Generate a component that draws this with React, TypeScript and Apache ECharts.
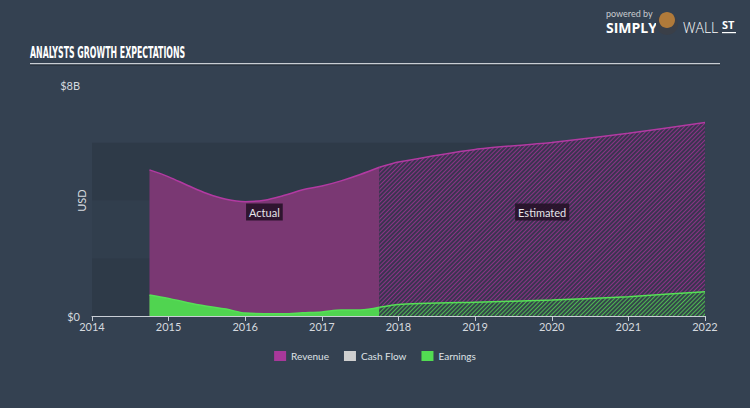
import React, { useEffect, useRef } from "react";
import * as echarts from "echarts";

// ---- Data (values in billions USD, x in decimal years) ----
const actualYears = [2014.75, 2015.0, 2015.25, 2015.5, 2015.75, 2016.0, 2016.25, 2016.5, 2016.75, 2017.0, 2017.25, 2017.5, 2017.75];
const actualRevenue = [5.06, 4.82, 4.52, 4.24, 4.04, 3.96, 4.01, 4.17, 4.37, 4.5, 4.68, 4.9, 5.15];
const actualEarnings = [0.73, 0.61, 0.46, 0.34, 0.24, 0.1, 0.08, 0.08, 0.11, 0.14, 0.21, 0.21, 0.3];
const estYears = [2017.75, 2018.0, 2019.0, 2020.0, 2021.0, 2022.0];
const estRevenue = [5.15, 5.33, 5.77, 6.01, 6.33, 6.7];
const estEarnings = [0.3, 0.4, 0.48, 0.55, 0.67, 0.84];
const cashFlow: number[][] = [];
const xTicks = [2014, 2015, 2016, 2017, 2018, 2019, 2020, 2021, 2022];
const yMax = 8;

const BG = "#344151";
const BAND = "#2e3a48";

const zip = (xs: number[], ys: number[]) => xs.map((x, i) => [x, ys[i]]);

export default function App() {
  const ref = useRef<HTMLDivElement>(null);
  useEffect(() => {
    if (!ref.current) return;
    const chart = echarts.init(ref.current, undefined, { renderer: "svg" });
    const labelStyle = {
      show: true,
      color: "#e6e6ea",
      fontSize: 11,
      fontFamily: "Lato",
      backgroundColor: "rgba(38,18,40,0.9)",
      padding: [3, 3, 3, 3],
    };
    const midActual = (actualYears[0] + actualYears[actualYears.length - 1]) / 2;
    const midEst = (estYears[0] + estYears[estYears.length - 1]) / 2;
    const hatch = (color: string) => ({
      symbol: "rect",
      symbolSize: 1,
      color,
      dashArrayX: [1, 0],
      dashArrayY: [1, 1.2],
      rotation: -Math.PI / 4,
    });
    chart.setOption({
      animation: false,
      backgroundColor: BG,
      textStyle: { fontFamily: "Lato" },
      grid: { left: 92, right: 45, top: 85, bottom: 92 },
      legend: {
        bottom: 42,
        left: "center",
        itemWidth: 12,
        itemHeight: 10,
        itemGap: 15,
        icon: "rect",
        textStyle: { color: "#dfe2e6", fontSize: 10, fontFamily: "Lato" },
        data: [
          { name: "Revenue", itemStyle: { color: "#a8389a" } },
          { name: "Cash Flow", itemStyle: { color: "#cfcfcf" } },
          { name: "Earnings", itemStyle: { color: "#52dc52" } },
        ],
        selectedMode: false,
      },
      xAxis: {
        type: "value",
        min: xTicks[0],
        max: xTicks[xTicks.length - 1],
        interval: 1,
        axisLine: { show: true, lineStyle: { color: "#c9ced6", width: 1 } },
        axisTick: { show: true, length: 5, lineStyle: { color: "#c9ced6" } },
        axisLabel: { color: "#d5d9df", fontSize: 11, margin: 5, formatter: (v: number) => String(v) },
        splitLine: { show: false },
      },
      yAxis: {
        type: "value",
        min: 0,
        max: yMax,
        interval: 2,
        name: "USD",
        nameLocation: "middle",
        nameGap: 5,
        nameRotate: 90,
        nameMoveOverlap: false,
        nameTextStyle: { color: "#d5d9df", fontSize: 11 },
        axisLine: { show: false },
        axisTick: { show: false },
        axisLabel: {
          color: "#d5d9df",
          fontSize: 11,
          margin: 12,
          formatter: (v: number) => (v === 0 ? "$0" : v === yMax ? "$8B" : ""),
        },
        splitLine: { show: false },
        splitArea: { show: true, areaStyle: { color: [BAND, "#313e4d", BAND, "rgba(0,0,0,0)"] } },
      },
      graphic: [
        {
          type: "text",
          left: 30,
          top: 44,
          scaleX: 0.545,
          style: { text: "ANALYSTS GROWTH EXPECTATIONS", fill: "#ffffff", font: "bold 16px 'Liberation Sans Narrow', 'DejaVu Sans Condensed', sans-serif" },
        },
        { type: "rect", shape: { x: 30, y: 63, width: 690, height: 1.5 }, style: { fill: "#c8cdd3" } },
        { type: "rect", shape: { x: 30, y: 64.5, width: 690, height: 1 }, style: { fill: "#1f2833" } },
        { type: "text", left: 606, top: 9, style: { text: "powered by", fill: "#c9ccd0", font: "9px Lato" } },
        { type: "text", left: 606, top: 20, style: { text: "SIMPLY", fill: "#ffffff", font: "bold 14px 'Open Sans'" } },
        { type: "circle", shape: { cx: 667, cy: 24, r: 11 }, style: { fill: "#3a3f48" } },
        { type: "ellipse", shape: { cx: 667, cy: 20, rx: 8, ry: 8 }, style: { fill: "#b07a3a" } },
        { type: "text", left: 683, top: 20, style: { text: "WALL", fill: "#ffffff", font: "300 14px 'Open Sans'" } },
        { type: "text", left: 722, top: 19, style: { text: "ST", fill: "#ffffff", font: "bold 11px 'Open Sans'" } },
        { type: "rect", shape: { x: 722, y: 32, width: 14, height: 1.2 }, style: { fill: "#ffffff" } },
      ],
      series: [
        {
          name: "Revenue",
          type: "line",
          data: zip(actualYears, actualRevenue),
          smooth: 0.35,
          showSymbol: false,
          lineStyle: { color: "#b23aa2", width: 1.5 },
          itemStyle: { color: "#a8389a" },
          areaStyle: { color: "#7a3873", opacity: 1 },
          z: 2,
          markPoint: {
            symbol: "rect",
            symbolSize: 0,
            data: [{ coord: [midActual, 3.6], value: "Actual" }],
            label: { ...labelStyle, formatter: "Actual" },
          },
        },
        {
          name: "Revenue",
          type: "line",
          data: zip(estYears, estRevenue),
          smooth: 0.2,
          showSymbol: false,
          lineStyle: { color: "#b23aa2", width: 1.5 },
          itemStyle: { color: "#a8389a", decal: hatch("rgba(160,50,148,0.8)") },
          areaStyle: { color: "#3a3450", opacity: 1 },
          z: 2,
          markPoint: {
            symbol: "rect",
            symbolSize: 0,
            data: [{ coord: [midEst, 3.6], value: "Estimated" }],
            label: { ...labelStyle, formatter: "Estimated" },
          },
        },
        {
          name: "Cash Flow",
          type: "line",
          data: cashFlow,
          showSymbol: false,
          itemStyle: { color: "#cfcfcf" },
        },
        {
          name: "Earnings",
          type: "line",
          data: zip(actualYears, actualEarnings),
          smooth: 0.35,
          showSymbol: false,
          lineStyle: { color: "#56e056", width: 1.5 },
          itemStyle: { color: "#52dc52" },
          areaStyle: { color: "#50d450", opacity: 1 },
          z: 3,
        },
        {
          name: "Earnings",
          type: "line",
          data: zip(estYears, estEarnings),
          smooth: 0.2,
          showSymbol: false,
          lineStyle: { color: "#56e056", width: 1.5 },
          itemStyle: { color: "#52dc52", decal: hatch("rgba(84,205,84,0.85)") },
          areaStyle: { color: "#34464a", opacity: 1 },
          z: 3,
        },
      ],
    });
    return () => chart.dispose();
  }, []);
  return <div ref={ref} style={{ width: 750, height: 408, position: "absolute", left: 0, top: 0 }} />;
}
